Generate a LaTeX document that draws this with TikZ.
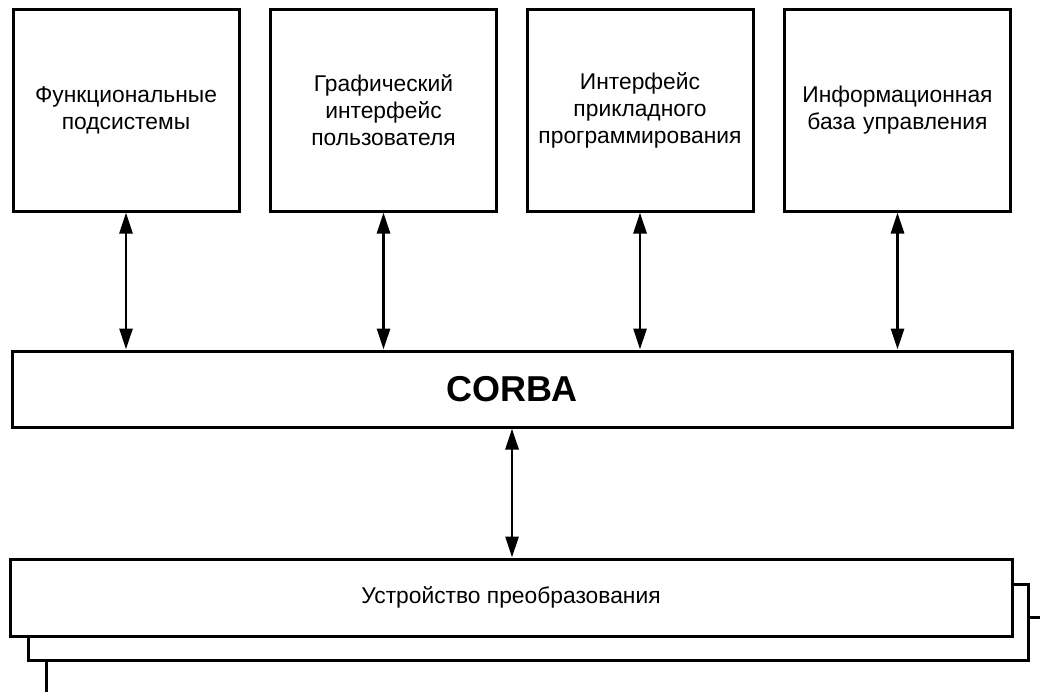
\documentclass[tikz,border=0pt]{standalone}
\usepackage{fontspec}
\setmainfont{Liberation Sans}
\usetikzlibrary{arrows.meta}
\begin{document}
\begin{tikzpicture}[x=1pt,y=-1pt,line join=miter,>={Triangle[length=21pt,width=13pt]},
		blok/.style={draw,line width=3pt,fill=white,minimum width=226pt,minimum height=202pt,inner sep=0pt,
			text width=214pt,align=center,font=\fontsize{22.8}{27}\selectfont},
		shina/.style={draw,line width=3pt,fill=white,minimum width=1000pt,minimum height=76pt,inner sep=0pt},
		svyaz/.style={<->,line width=2.8pt}]
			\clip (0,0) rectangle (1040,691);
			\fill[white] (0,0) rectangle (1040,691);
			\node[blok] (F) at (126,110) {Функциональные\\подсистемы};
			\node[blok] (G) at (383.5,110) {Графический\\интерфейс\\пользователя};
			\node[blok] (I) at (640,110) {Интерфейс\\прикладного\\программирования};
			\node[blok] (B) at (897.5,110) {Информационная\\база управления};
			\node[shina,font=\bfseries\fontsize{36}{40}\selectfont] (C) at (512,389) {CORBA};
			\node[shina] (U3) at (546,655) {};
			\node[shina] (U2) at (528,622) {};
			\node[shina,minimum width=1002pt,minimum height=77pt,font=\fontsize{22.8}{27}\selectfont] (U) at (511,597.5) {Устройство преобразования};
			\draw[svyaz] (F.south)--(F.south|-C.north);
			\draw[svyaz] (G.south)--(G.south|-C.north);
			\draw[svyaz] (I.south)--(I.south|-C.north);
			\draw[svyaz] (B.south)--(B.south|-C.north);
			\draw[svyaz] (C.south)--(C.south|-U.north);
		\end{tikzpicture}
\end{document}
